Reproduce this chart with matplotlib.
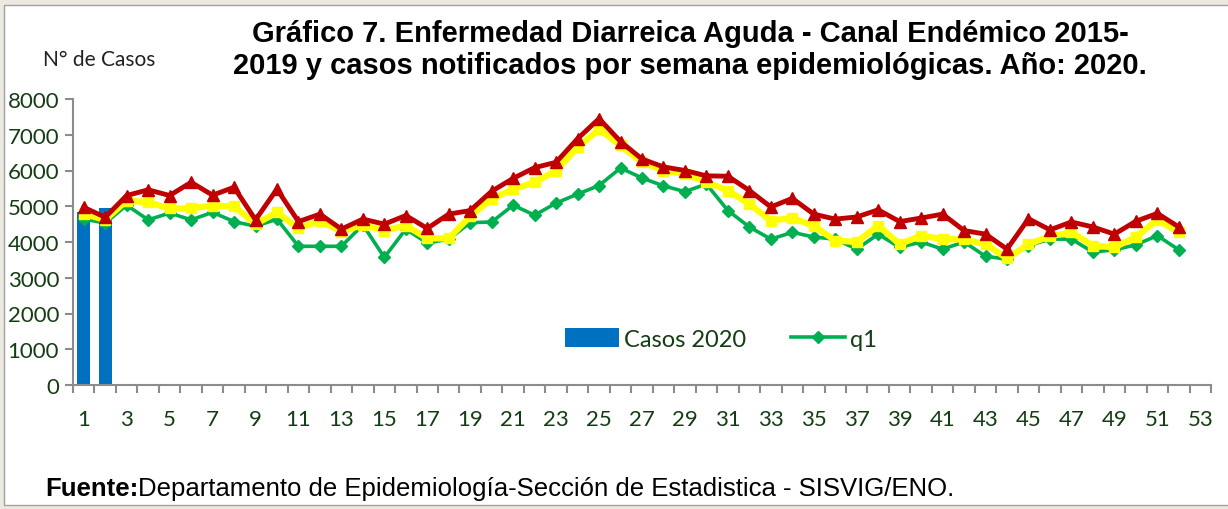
import matplotlib
matplotlib.use("Agg")
import matplotlib.pyplot as plt
from matplotlib.patches import Rectangle
from matplotlib.lines import Line2D
from matplotlib.patches import Patch

# epidemiological weeks (category axis runs 1..53)
weeks = list(range(1, 54))
line_weeks = list(range(1, 53))

casos_2020 = [4850, 4950]

q1 = [4640, 4530, 5030, 4620, 4810, 4620, 4830, 4570, 4440, 4640,
      3880, 3880, 3880, 4480, 3570, 4360, 3970, 4080, 4540, 4560,
      5030, 4750, 5090, 5340, 5580, 6070, 5790, 5570, 5410, 5620,
      4880, 4420, 4080, 4270, 4140, 4080, 3800, 4220, 3850, 4000,
      3800, 4000, 3600, 3520, 3900, 4080, 4080, 3720, 3780, 3920,
      4180, 3780]

mediana = [4780, 4620, 5160, 5110, 4940, 4940, 5020, 5000, 4500, 4830,
           4380, 4600, 4290, 4480, 4320, 4460, 4100, 4100, 4720, 5200,
           5480, 5670, 6000, 6650, 7150, 6700, 6230, 6000, 5900, 5680,
           5440, 5060, 4600, 4670, 4450, 4040, 4000, 4460, 3940, 4180,
           4080, 4070, 3940, 3540, 3940, 4160, 4270, 3900, 3850, 4140,
           4620, 4270]

q3 = [4970, 4690, 5300, 5460, 5300, 5670, 5310, 5530, 4620, 5480,
      4570, 4780, 4360, 4640, 4500, 4740, 4380, 4780, 4880, 5420,
      5780, 6080, 6230, 6890, 7450, 6810, 6320, 6100, 6000, 5850,
      5840, 5440, 4980, 5220, 4780, 4640, 4700, 4900, 4570, 4670,
      4780, 4320, 4220, 3800, 4650, 4340, 4560, 4420, 4220, 4580,
      4800, 4420]

yticks = [0, 1000, 2000, 3000, 4000, 5000, 6000, 7000, 8000]

tick_color = "#143D14"
body_font = ["Lato", "DejaVu Sans"]
arial = ["Liberation Sans", "DejaVu Sans"]

fig = plt.figure(figsize=(12.28, 5.10), dpi=100)
fig.patch.set_facecolor("#ECE9E1")
# white chart area with a thin gray frame, like the Excel object
fig.patches.append(Rectangle((4 / 1228, 4 / 510), 1.0, 1 - 10 / 510,
                             transform=fig.transFigure, facecolor="white",
                             edgecolor="#A0A0A0", linewidth=1.0, zorder=-10))

ax = fig.add_axes([73 / 1228, 1 - 386 / 510, (1211 - 73) / 1228, (386 - 100) / 510])
ax.set_facecolor("none")

ax.bar(weeks[:len(casos_2020)], casos_2020, width=0.62, color="#0070C0", zorder=2)
ax.plot(line_weeks, q1, color="#00B050", lw=2.6, marker="D", ms=6, zorder=3)
ax.plot(line_weeks, mediana, color="#FFFF00", lw=4.5, marker="s", ms=7, zorder=4)
ax.plot(line_weeks, q3, color="#C00000", lw=3.5, marker="^", ms=8, zorder=5)

ax.set_xlim(0.5, 53.5)
ax.set_ylim(0, 8000)
ax.set_yticks(yticks)
ax.set_xticks(weeks[::2])
ax.set_xticks([w + 0.5 for w in range(0, 54)], minor=True)

for side in ("top", "right"):
    ax.spines[side].set_visible(False)
for side in ("left", "bottom"):
    ax.spines[side].set_color("#8C8C8C")
    ax.spines[side].set_linewidth(1.5)

ax.tick_params(axis="y", colors="#8C8C8C", labelcolor=tick_color, length=6, width=1.5,
               labelsize=16, pad=4)
ax.tick_params(axis="x", which="major", length=0, labelcolor=tick_color, labelsize=16, pad=17)
ax.tick_params(axis="x", which="minor", length=6, width=1.5, colors="#8C8C8C")
for lbl in ax.get_xticklabels() + ax.get_yticklabels():
    lbl.set_family(body_font)

handles = [Patch(facecolor="#0070C0", label="Casos 2020"),
           Line2D([], [], color="#00B050", lw=2.6, marker="D", ms=6, label="q1")]
leg = ax.legend(handles=handles, loc="center", bbox_to_anchor=(721 / 1228, 1 - 340 / 510),
                bbox_transform=fig.transFigure, ncol=2, frameon=False,
                prop={"family": body_font, "size": 17}, handlelength=2.3,
                handleheight=0.85, columnspacing=1.9, handletextpad=0.2)
for t in leg.get_texts():
    t.set_color(tick_color)

fig.text(690 / 1228, 1 - 50 / 510,
         "Gráfico 7. Enfermedad Diarreica Aguda - Canal Endémico 2015-\n"
         "2019 y casos notificados por semana epidemiológicas. Año: 2020.",
         ha="center", va="center", fontsize=21, fontweight="bold", family=arial,
         linespacing=1.15)
fig.text(43 / 1228, 1 - 60 / 510, "N° de Casos", ha="left", va="center",
         fontsize=15, family=body_font, color="#222222")

t1 = fig.text(45 / 1228, 1 - 489 / 510, "Fuente:", ha="left", va="center",
              fontsize=18.5, fontweight="bold", family=arial)
fig.canvas.draw()
bb = t1.get_window_extent()
fig.text(bb.x1 / fig.bbox.width, 1 - 489 / 510,
         "Departamento de Epidemiología-Sección de Estadistica - SISVIG/ENO.",
         ha="left", va="center", fontsize=18.5, family=arial)

fig.savefig("out.png", dpi=100, facecolor=fig.get_facecolor())
